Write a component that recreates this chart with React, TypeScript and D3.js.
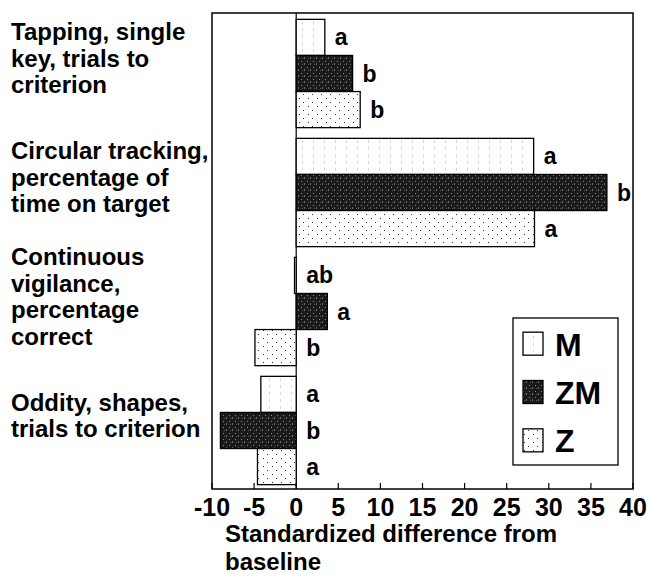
import React, { useEffect, useRef } from "react";
import * as d3 from "d3";

const categories = ["Tapping", "Circular", "Vigilance", "Oddity"];
const categoryLines = [
  ["Tapping, single", "key, trials to", "criterion"],
  ["Circular tracking,", "percentage of", "time on target"],
  ["Continuous", "vigilance,", "percentage", "correct"],
  ["Oddity, shapes,", "trials to criterion"],
];
const series = ["M", "ZM", "Z"];
const valuesM = [3.4, 28.2, -0.2, -4.2];
const valuesZM = [6.7, 36.9, 3.7, -9.0];
const valuesZ = [7.6, 28.3, -4.9, -4.6];
const lettersM = ["a", "a", "ab", "a"];
const lettersZM = ["b", "b", "a", "b"];
const lettersZ = ["b", "a", "b", "a"];
const xTicks = [-10, -5, 0, 5, 10, 15, 20, 25, 30, 35, 40];
const axisTitle = ["Standardized difference from", "baseline"];

const W = 648;
const H = 576;
const FONT = "Arial, 'Liberation Sans', sans-serif";

export default function App() {
  const ref = useRef<SVGSVGElement>(null);

  useEffect(() => {
    const svg = d3.select(ref.current);
    svg.selectAll("*").remove();

    const left = 212, right = 633, top = 13, bottom = 489;
    const x = d3.scaleLinear().domain([-10, 40]).range([left, right]);
    const y = d3.scaleBand().domain(categories).range([top + 1, bottom + 1]).paddingInner(0.09).paddingOuter(0.045);
    const ySub = d3.scaleBand().domain(series).range([0, y.bandwidth()]);

    const defs = svg.append("defs");
    // M: white with faint vertical dotted streaks
    const pM = defs.append("pattern").attr("id", "patM").attr("patternUnits", "userSpaceOnUse")
      .attr("width", 11).attr("height", 7);
    pM.append("rect").attr("width", 11).attr("height", 7).attr("fill", "#fff");
    pM.append("rect").attr("x", 5).attr("y", 0).attr("width", 1).attr("height", 3).attr("fill", "#d8d8d8");
    // ZM: near black with grey speckle
    const pZM = defs.append("pattern").attr("id", "patZM").attr("patternUnits", "userSpaceOnUse")
      .attr("width", 6).attr("height", 6);
    pZM.append("rect").attr("width", 6).attr("height", 6).attr("fill", "#1a1a1a");
    pZM.append("rect").attr("x", 1).attr("y", 1).attr("width", 1).attr("height", 1).attr("fill", "#8a8a8a");
    pZM.append("rect").attr("x", 4).attr("y", 3).attr("width", 1).attr("height", 2).attr("fill", "#6a6a6a");
    pZM.append("rect").attr("x", 2).attr("y", 4).attr("width", 1).attr("height", 1).attr("fill", "#555");
    // Z: white with dot grid
    const pZ = defs.append("pattern").attr("id", "patZ").attr("patternUnits", "userSpaceOnUse")
      .attr("width", 9).attr("height", 8);
    pZ.append("rect").attr("width", 9).attr("height", 8).attr("fill", "#fff");
    pZ.append("rect").attr("x", 2).attr("y", 2).attr("width", 1).attr("height", 1).attr("fill", "#333");
    pZ.append("rect").attr("x", 6).attr("y", 6).attr("width", 1).attr("height", 1).attr("fill", "#333");

    const fills: Record<string, string> = { M: "url(#patM)", ZM: "url(#patZM)", Z: "url(#patZ)" };
    const vals: Record<string, number[]> = { M: valuesM, ZM: valuesZM, Z: valuesZ };
    const letters: Record<string, string[]> = { M: lettersM, ZM: lettersZM, Z: lettersZ };

    // frame
    svg.append("rect").attr("x", left).attr("y", top).attr("width", right - left).attr("height", bottom - top)
      .attr("fill", "none").attr("stroke", "#000").attr("stroke-width", 1.5);
    // zero line
    svg.append("line").attr("x1", x(0)).attr("x2", x(0)).attr("y1", top).attr("y2", bottom)
      .attr("stroke", "#000").attr("stroke-width", 1.2);

    // bars
    categories.forEach((c, i) => {
      series.forEach((s) => {
        const v = vals[s][i];
        const y0 = (y(c) as number) + (ySub(s) as number);
        const h = ySub.bandwidth();
        svg.append("rect")
          .attr("x", Math.min(x(0), x(v)))
          .attr("y", y0)
          .attr("width", Math.abs(x(v) - x(0)))
          .attr("height", h)
          .attr("fill", fills[s])
          .attr("stroke", "#000")
          .attr("stroke-width", 1.3);
        svg.append("text")
          .attr("x", Math.max(x(0), x(v)) + 10)
          .attr("y", y0 + h / 2)
          .attr("dy", "0.35em")
          .attr("font-family", FONT).attr("font-weight", "bold").attr("font-size", 23)
          .text(letters[s][i]);
      });
      // category labels
      const lines = categoryLines[i];
      const cy = (y(c) as number) + y.bandwidth() / 2 - 15;
      const lh = 26.5;
      lines.forEach((t, k) => {
        svg.append("text")
          .attr("x", 11)
          .attr("y", cy + (k - (lines.length - 1) / 2) * lh)
          .attr("dy", "0.35em")
          .attr("font-family", FONT).attr("font-weight", "bold").attr("font-size", 24)
          .text(t);
      });
    });

    // x axis ticks (inward)
    xTicks.forEach((t) => {
      svg.append("line").attr("x1", x(t)).attr("x2", x(t)).attr("y1", bottom).attr("y2", bottom - 6)
        .attr("stroke", "#000").attr("stroke-width", 1.2);
      svg.append("text")
        .attr("x", x(t)).attr("y", 516)
        .attr("text-anchor", "middle")
        .attr("font-family", FONT).attr("font-weight", "bold").attr("font-size", 25)
        .text(String(t));
    });
    axisTitle.forEach((t, k) => {
      svg.append("text").attr("x", 225).attr("y", 542 + k * 28)
        .attr("font-family", FONT).attr("font-weight", "bold").attr("font-size", 24)
        .text(t);
    });

    // legend
    const lg = svg.append("g");
    lg.append("rect").attr("x", 513).attr("y", 318).attr("width", 105).attr("height", 147)
      .attr("fill", "#fff").attr("stroke", "#000").attr("stroke-width", 1.3);
    const ly = d3.scaleBand().domain(series).range([320, 465]);
    series.forEach((s) => {
      const cyy = (ly(s) as number) + ly.bandwidth() / 2;
      lg.append("rect").attr("x", 523).attr("y", cyy - 12).attr("width", 20).attr("height", 23)
        .attr("fill", fills[s]).attr("stroke", "#000").attr("stroke-width", 1.3);
      lg.append("text").attr("x", 555).attr("y", cyy).attr("dy", "0.36em")
        .attr("font-family", FONT).attr("font-weight", "bold").attr("font-size", 32)
        .text(s);
    });
  }, []);

  return (
    <svg ref={ref} width={W} height={H}
      style={{ position: "absolute", left: 0, top: 0, background: "#fff" }} />
  );
}
